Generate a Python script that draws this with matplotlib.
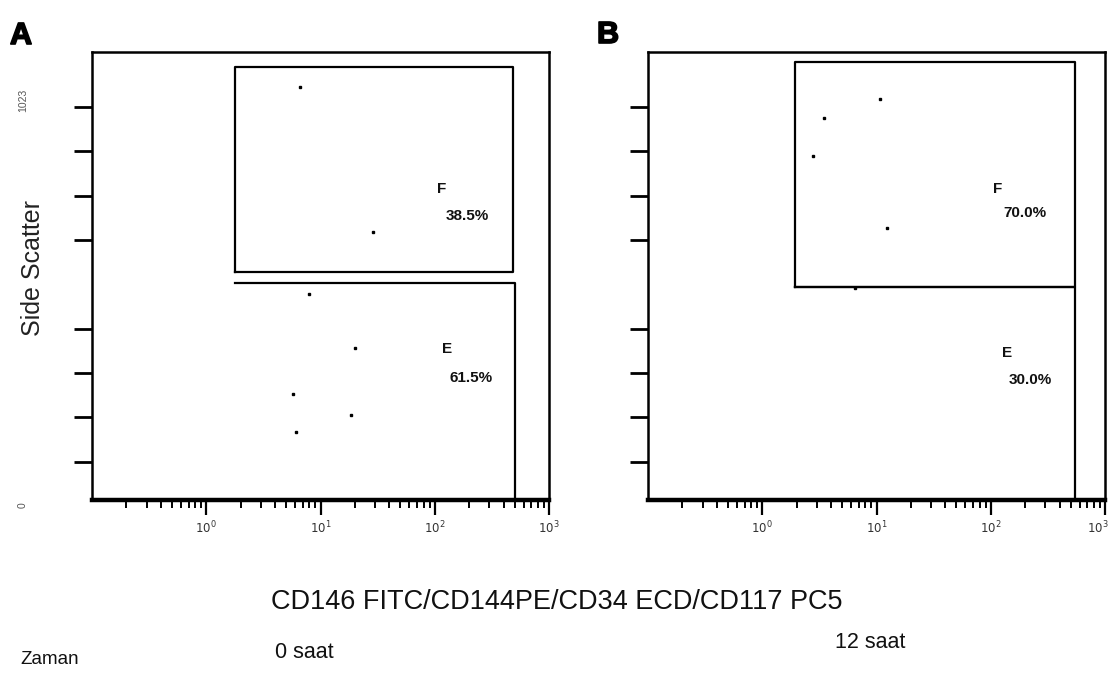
import matplotlib
matplotlib.use("Agg")
import matplotlib.pyplot as plt
import matplotlib.patheffects as pe
from matplotlib.ticker import LogLocator, NullFormatter
from matplotlib.transforms import ScaledTranslation

plt.rcParams['font.family'] = ['Liberation Sans', 'DejaVu Sans']

# ---- data ----
panels = ["A", "B"]
times = ["0 saat", "12 saat"]
# events: x = CD fluorescence (log), y = side scatter (linear 0-1023)
a_x = [6.6, 28.8, 7.9, 20.0, 5.7, 18.5, 6.1]
a_y = [945, 618, 479, 357, 253, 206, 168]
b_x = [10.7, 3.5, 2.8, 12.4, 6.5]
b_y = [918, 875, 790, 627, 492]
# gates: (x_left, x_right, y_bottom, y_top)
a_gate_F = (1.78, 484, 528, 990)
a_gate_E = (1.78, 504, 503)
b_gate_F = (1.94, 546, 494, 1001)
b_gate_E = (1.94, 546, 494)
a_pct = ["38.5%", "61.5%"]
b_pct = ["70.0%", "30.0%"]
x_ticks = [1, 10, 100, 1000]
x_ticklabels = [r"$10^0$", r"$10^1$", r"$10^2$", r"$10^3$"]
y_ticks = [100, 200, 300, 400, 600, 700, 800, 900]

fig = plt.figure(figsize=(11.13, 6.79), dpi=100)

W = 1113.0
H = 679.0
def ax_rect(l, t, r, b):
    return [l / W, 1 - b / H, (r - l) / W, (b - t) / H]

axA = fig.add_axes(ax_rect(92, 52, 549, 500))
axB = fig.add_axes(ax_rect(648, 52, 1105, 500))

def style(ax):
    ax.set_xscale('log')
    ax.set_xlim(0.1, 1000)
    ax.set_ylim(14, 1024)
    for s in ['top', 'left', 'right']:
        ax.spines[s].set_linewidth(1.8)
    ax.spines['bottom'].set_linewidth(3.2)
    ax.set_xticks(x_ticks)
    ax.set_xticklabels(x_ticklabels, fontsize=8.5, color='#333333')
    ax.xaxis.set_minor_locator(LogLocator(base=10, subs=range(2, 10), numticks=20))
    ax.xaxis.set_minor_formatter(NullFormatter())
    ax.tick_params(axis='x', which='major', direction='out', length=11, width=1.6, pad=3)
    ax.tick_params(axis='x', which='minor', direction='out', length=6, width=1.4)
    ax.set_yticks(y_ticks)
    ax.set_yticklabels([])
    ax.tick_params(axis='y', which='major', direction='out', length=13, width=2, pad=2)
    ax.tick_params(axis='y', which='minor', left=False)

def gates(ax, gF, gE):
    x0, x1, y0, y1 = gF
    ax.plot([x0, x0, x1, x1, x0], [y0, y1, y1, y0, y0], color='black', lw=1.6)
    ex0, ex1, ey = gE
    ax.plot([ex0, ex1, ex1], [ey, ey, 14], color='black', lw=1.6)

for ax in (axA, axB):
    style(ax)

# keep the last x label inside the figure
lbl = axB.get_xticklabels()[-1]
lbl.set_transform(lbl.get_transform() + ScaledTranslation(-5 / 72, 0, fig.dpi_scale_trans))

gates(axA, a_gate_F, a_gate_E)
gates(axB, b_gate_F, b_gate_E)
axA.plot(a_x, a_y, 's', color='black', markersize=2.0, ls='none')
axB.plot(b_x, b_y, 's', color='black', markersize=2.0, ls='none')

tf = dict(fontsize=11, fontweight='bold', color='#111111', ha='left', va='center')
axA.text(105, 715, "F", **tf)
axA.text(125, 655, a_pct[0], **tf)
axA.text(115, 355, "E", **tf)
axA.text(135, 290, a_pct[1], **tf)
axB.text(105, 715, "F", **tf)
axB.text(130, 660, b_pct[0], **tf)
axB.text(125, 345, "E", **tf)
axB.text(145, 285, b_pct[1], **tf)

# panel letters
heavy = [pe.Stroke(linewidth=1.2, foreground='black'), pe.Normal()]
fig.text(10 / W, 1 - 36 / H, panels[0], fontsize=22, fontweight='heavy', va='center', ha='left', path_effects=heavy)
fig.text(597 / W, 1 - 35 / H, panels[1], fontsize=22, fontweight='heavy', va='center', ha='left', path_effects=heavy)

# y axis annotation
fig.text(33 / W, 1 - 268 / H, "Side Scatter", rotation=90, fontsize=18, va='center', ha='center', color='#222222')
fig.text(23 / W, 1 - 100 / H, "1023", rotation=90, fontsize=7.5, va='center', ha='center', color='#555555')
fig.text(23 / W, 1 - 505 / H, "0", rotation=90, fontsize=7.5, va='center', ha='center', color='#555555')

# bottom texts
fig.text(557 / W, 1 - 602 / H, "CD146 FITC/CD144PE/CD34 ECD/CD117 PC5", fontsize=19.5, va='center', ha='center', color='#111111')
fig.text(20 / W, 1 - 659 / H, "Zaman", fontsize=13.5, va='center', ha='left', color='#111111')
fig.text(275 / W, 1 - 653 / H, times[0], fontsize=15.5, va='center', ha='left', color='#111111')
fig.text(835 / W, 1 - 642 / H, times[1], fontsize=15.5, va='center', ha='left', color='#111111')

fig.savefig("out.png", dpi=100)
